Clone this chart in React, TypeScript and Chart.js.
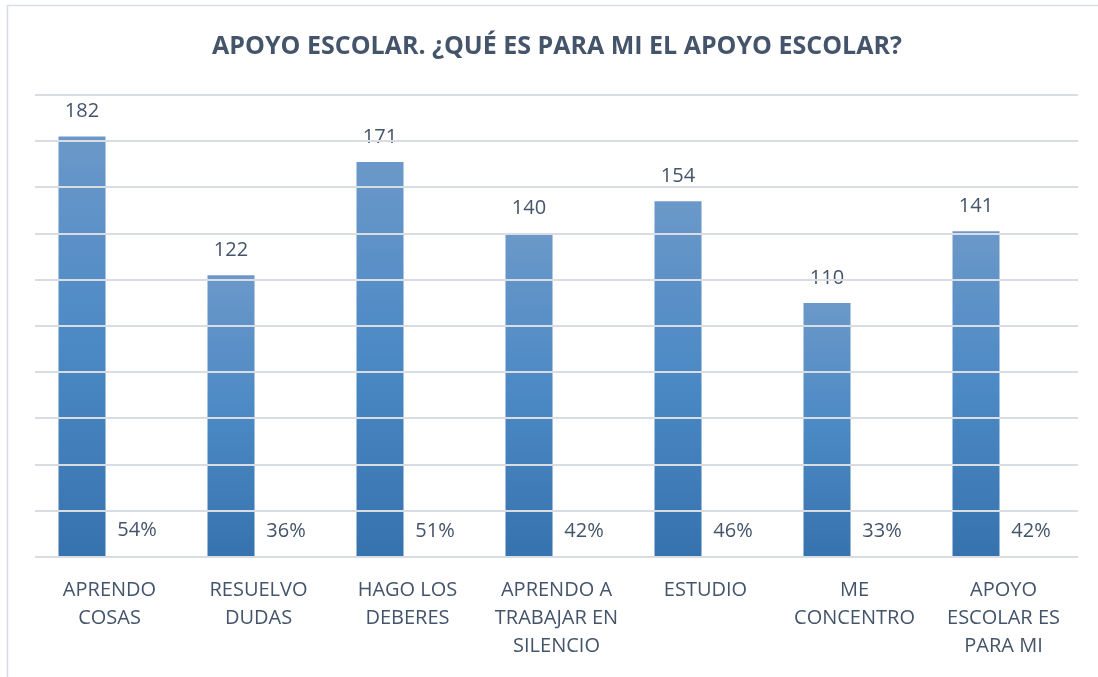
import React, { useEffect, useRef } from "react";
import { Chart, registerables } from "chart.js";

Chart.register(...registerables);

const TITLE = "APOYO ESCOLAR. ¿QUÉ ES PARA MI EL APOYO ESCOLAR?";
const categories: string[][] = [
  ["APRENDO", "COSAS"],
  ["RESUELVO", "DUDAS"],
  ["HAGO LOS", "DEBERES"],
  ["APRENDO A", "TRABAJAR EN", "SILENCIO"],
  ["ESTUDIO"],
  ["ME", "CONCENTRO"],
  ["APOYO", "ESCOLAR ES", "PARA MI"],
];
const counts = [182, 122, 171, 140, 154, 110, 141];
const percents = [0.54, 0.36, 0.51, 0.42, 0.46, 0.33, 0.42];

const TEXT = "#44546a";
const GRID = "#d9dde3";
const FONT = "'Open Sans', 'Liberation Sans', sans-serif";

export default function App() {
  const ref = useRef<HTMLCanvasElement | null>(null);
  useEffect(() => {
    document.body.style.margin = "0";
    const canvas = ref.current!;
    const labelsPlugin = {
      id: "valueLabels",
      afterDatasetsDraw(chart: any) {
        const ctx = chart.ctx;
        ctx.save();
        ctx.fillStyle = TEXT;
        ctx.font = `20px ${FONT}`;
        ctx.textAlign = "center";
        ctx.textBaseline = "middle";
        chart.data.datasets.forEach((ds: any, di: number) => {
          const meta = chart.getDatasetMeta(di);
          meta.data.forEach((bar: any, i: number) => {
            const v = ds.data[i];
            const txt = di === 0 ? String(v) : Math.round(v * 100) + "%";
            ctx.fillText(txt, bar.x, bar.y - 25);
          });
        });
        ctx.restore();
      },
    };
    const framePlugin = {
      id: "frame",
      beforeDraw(chart: any) {
        const ctx = chart.ctx;
        ctx.save();
        ctx.fillStyle = "#ffffff";
        ctx.fillRect(0, 0, chart.width, chart.height);
        ctx.strokeStyle = GRID;
        ctx.lineWidth = 1.5;
        ctx.beginPath();
        ctx.moveTo(7.5, chart.height + 5);
        ctx.lineTo(7.5, 5.5);
        ctx.lineTo(chart.width + 5, 5.5);
        ctx.stroke();
        ctx.fillStyle = TEXT;
        ctx.font = `bold 25px ${FONT}`;
        ctx.textAlign = "center";
        ctx.textBaseline = "middle";
        ctx.fillText(TITLE, 557, 47);
        ctx.restore();
      },
    };
    const chart = new Chart(canvas, {
      type: "bar",
      data: {
        labels: categories,
        datasets: [
          {
            label: "Respuestas",
            data: counts,
            backgroundColor: (c: any) => {
              const ch = c.chart;
              const ca = ch.chartArea;
              if (!ca || c.type !== "data" || !ch.scales.y) return "#4a86c0";
              const top = ch.scales.y.getPixelForValue(c.parsed ? c.parsed.y : counts[c.dataIndex]);
              const g = ch.ctx.createLinearGradient(0, top, 0, ca.bottom);
              g.addColorStop(0, "#6b98c9");
              g.addColorStop(0.5, "#4b89c5");
              g.addColorStop(1, "#3672ae");
              return g;
            },
            borderWidth: 0,
            barPercentage: 0.855,
            categoryPercentage: 0.738,
          },
          {
            label: "Porcentaje",
            data: percents,
            backgroundColor: "rgba(0,0,0,0)",
            borderWidth: 0,
            barPercentage: 0.855,
            categoryPercentage: 0.738,
          },
        ],
      },
      options: {
        responsive: false,
        animation: false,
        layout: { padding: { top: 95, left: 35, right: 20, bottom: -2 } },
        plugins: {
          legend: { display: false },
          title: { display: false },
          tooltip: { enabled: false },
        },
        scales: {
          x: {
            grid: { display: false, drawTicks: false },
            border: { display: false },
            ticks: {
              color: TEXT,
              font: { family: FONT, size: 20, lineHeight: 1.4 },
              padding: 19,
              maxRotation: 0,
              autoSkip: false,
            },
          },
          y: {
            min: 0,
            max: 200,
            ticks: { display: false, stepSize: 20 },
            border: { display: false },
            grid: { color: GRID, lineWidth: 2, drawTicks: false, z: 1 },
          },
        },
      },
      plugins: [framePlugin, labelsPlugin],
    } as any);
    return () => chart.destroy();
  }, []);
  return (
    <div style={{ width: 1098, height: 677 }}>
      <canvas ref={ref} width={1098} height={677} />
    </div>
  );
}
